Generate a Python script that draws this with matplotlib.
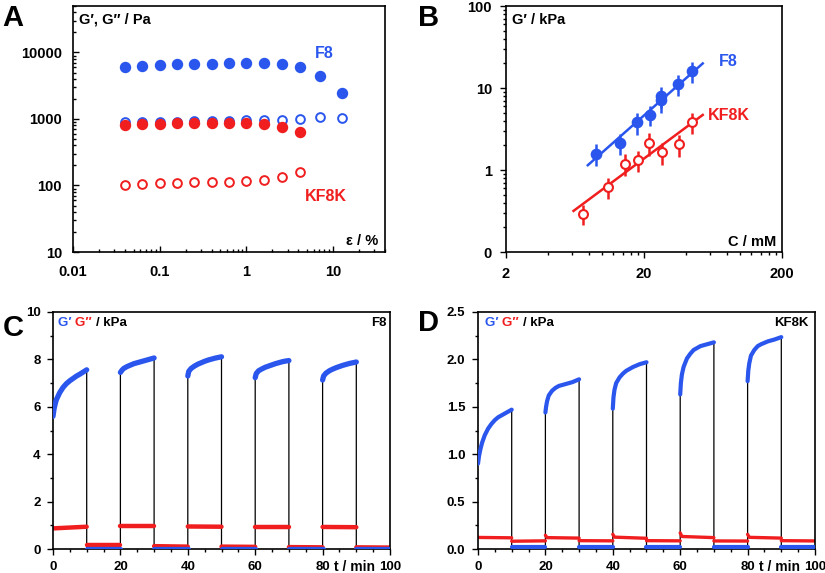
import numpy as np
import matplotlib
matplotlib.use("Agg")
import matplotlib.pyplot as plt
from matplotlib.ticker import FixedLocator, NullFormatter, FixedFormatter

plt.rcParams['font.family'] = ['Liberation Sans', 'DejaVu Sans']
plt.rcParams['font.weight'] = 'bold'

BLUE = '#2a56ee'
RED = '#f01e1e'

# ---------------- Panel A data ----------------
strain = [0.04, 0.063, 0.1, 0.16, 0.25, 0.4, 0.63, 1.0, 1.6, 2.6, 4.2, 7.1, 12.6]
f8_gp = [6000, 6200, 6400, 6600, 6700, 6800, 6900, 6900, 6850, 6600, 6000, 4500, 2500]
f8_gpp = [890, 890, 900, 910, 920, 930, 940, 950, 960, 980, 1010, 1070, 1050]
kf8k_gp = [800, 830, 850, 860, 870, 880, 880, 870, 850, 770, 640]
kf8k_gpp = [102, 106, 110, 110, 111, 113, 114, 118, 122, 135, 160]

# ---------------- Panel B data ----------------
conc_f8 = [9.0, 13.3, 17.8, 22.2, 26.7, 26.7, 35.3, 44.6]
gmod_f8 = [1.58, 2.14, 3.8, 4.75, 7.1, 7.95, 11.2, 16.2]
err_f8 = [0.47, 0.6, 1.1, 1.3, 2.2, 2.3, 3.2, 4.7]
conc_kf8k = [7.17, 10.9, 14.6, 18.1, 21.6, 27.0, 35.7, 44.6]
gmod_kf8k = [0.294, 0.62, 1.2, 1.32, 2.14, 1.66, 2.05, 3.87]
err_kf8k = [0.08, 0.18, 0.35, 0.38, 0.65, 0.5, 0.6, 1.1]
fit_f8 = (0.0533, 1.49, 7.83, 53.3)      # prefactor, exponent, x range
fit_kf8k = (0.0326, 1.25, 6.17, 53.3)

# ---------------- Panel C data ----------------
c_gp_t = [
    [0, 0.3, 0.7, 1, 1.5, 2, 3, 4, 5, 6, 7, 8, 9, 10],
    [10, 20],
    [20, 20.5, 21, 22, 23, 24, 25, 26, 27, 28, 29, 30],
    [30, 40],
    [40, 40.3, 41, 42, 43, 44, 45, 46, 47, 48, 49, 50],
    [50, 60],
    [60, 60.3, 61, 62, 63, 64, 65, 66, 67, 68, 69, 70],
    [70, 80],
    [80, 80.3, 81, 82, 83, 84, 85, 86, 87, 88, 89, 90],
    [90, 100],
]
c_gp_v = [
    [5.6, 5.9, 6.15, 6.3, 6.45, 6.6, 6.82, 6.98, 7.1, 7.2, 7.3, 7.38, 7.47, 7.56],
    [0.02, 0.02],
    [7.45, 7.55, 7.62, 7.7, 7.76, 7.82, 7.86, 7.9, 7.94, 7.98, 8.02, 8.06],
    [0.02, 0.02],
    [7.3, 7.5, 7.62, 7.72, 7.8, 7.86, 7.92, 7.97, 8.01, 8.05, 8.08, 8.11],
    [0.02, 0.02],
    [7.23, 7.4, 7.52, 7.6, 7.67, 7.72, 7.77, 7.82, 7.86, 7.9, 7.93, 7.95],
    [0.02, 0.02],
    [7.13, 7.3, 7.42, 7.52, 7.59, 7.65, 7.7, 7.75, 7.79, 7.83, 7.86, 7.89],
    [0.02, 0.02],
]
c_gpp_t = [[0, 10], [10, 20], [20, 30], [30, 40], [40, 50],
           [50, 60], [60, 70], [70, 80], [80, 90], [90, 100]]
c_gpp_v = [[0.87, 0.94], [0.18, 0.18], [0.99, 0.99], [0.12, 0.1], [0.95, 0.94],
           [0.1, 0.09], [0.92, 0.92], [0.08, 0.07], [0.93, 0.92], [0.07, 0.06]]

# ---------------- Panel D data ----------------
d_gp_t = [
    [0, 0.3, 0.7, 1.2, 2, 3, 4, 5, 6, 7, 8, 9, 10],
    [10, 20],
    [20, 20.2, 20.5, 21, 22, 23, 24, 26, 28, 30],
    [30, 40],
    [40, 40.2, 40.5, 41, 42, 43, 44, 46, 48, 50],
    [50, 60],
    [60, 60.2, 60.5, 61, 62, 63, 64, 66, 68, 70],
    [70, 80],
    [80, 80.2, 80.5, 81, 82, 83, 84, 86, 88, 90],
    [90, 100],
]
d_gp_v = [
    [0.9, 0.98, 1.05, 1.12, 1.2, 1.27, 1.32, 1.36, 1.39, 1.41, 1.43, 1.45, 1.47],
    [0.018, 0.018],
    [1.44, 1.5, 1.56, 1.62, 1.67, 1.7, 1.72, 1.74, 1.76, 1.79],
    [0.02, 0.02],
    [1.48, 1.6, 1.68, 1.75, 1.81, 1.85, 1.88, 1.92, 1.95, 1.97],
    [0.02, 0.02],
    [1.63, 1.75, 1.84, 1.92, 2.01, 2.06, 2.1, 2.14, 2.16, 2.18],
    [0.02, 0.02],
    [1.77, 1.88, 1.96, 2.04, 2.1, 2.14, 2.16, 2.19, 2.21, 2.235],
    [0.02, 0.02],
]
d_gpp_t = [[0, 10], [10, 20], [20, 20.5, 30], [30, 40], [40, 40.5, 50],
           [50, 60], [60, 60.5, 70], [70, 80], [80, 80.5, 90], [90, 100]]
d_gpp_v = [[0.122, 0.118], [0.082, 0.086], [0.145, 0.12, 0.115], [0.088, 0.086],
           [0.155, 0.125, 0.113], [0.088, 0.086], [0.17, 0.132, 0.12],
           [0.085, 0.084], [0.155, 0.123, 0.115], [0.088, 0.085]]

W, H = 825, 573
fig = plt.figure(figsize=(W / 100, H / 100), dpi=100)


def ax_px(l, t, r, b):
    return fig.add_axes([l / W, 1 - b / H, (r - l) / W, (b - t) / H])


def style(ax, direction):
    for s in ax.spines.values():
        s.set_linewidth(1.2)
    ax.tick_params(which='both', direction=direction, width=1.0, labelsize=10.5)
    ax.tick_params(which='major', length=4)
    ax.tick_params(which='minor', length=2.5)


# ---- A ----
axA = ax_px(73, 6, 385, 252)
axA.set_xscale('log'); axA.set_yscale('log')
axA.set_xlim(0.01, 40); axA.set_ylim(10, 50000)
axA.plot(strain, f8_gp, 'o', color=BLUE, ms=7.2, mec=BLUE)
axA.plot(strain, f8_gpp, 'o', mfc='white', mec=BLUE, ms=6.3, mew=1.4)
axA.plot(strain[:len(kf8k_gp)], kf8k_gp, 'o', color=RED, ms=7.2, mec=RED)
axA.plot(strain[:len(kf8k_gpp)], kf8k_gpp, 'o', mfc='white', mec=RED, ms=6.3, mew=1.4)
style(axA, 'in')
axA.tick_params(axis='x', pad=9)
axA.tick_params(axis='y', pad=8)
axA.xaxis.set_major_locator(FixedLocator([0.01, 0.1, 1, 10]))
axA.xaxis.set_major_formatter(FixedFormatter(['0.01', '0.1', '1', '10']))
axA.yaxis.set_major_locator(FixedLocator([10, 100, 1000, 10000]))
axA.yaxis.set_major_formatter(FixedFormatter(['10', '100', '1000', '10000']))
axA.xaxis.set_minor_formatter(NullFormatter()); axA.yaxis.set_minor_formatter(NullFormatter())
axA.text(0.02, 0.945, 'G′, G″ / Pa', transform=axA.transAxes, fontsize=10.5, va='center', fontweight='bold')
axA.text(0.978, 0.045, 'ε / %', transform=axA.transAxes, fontsize=10.5, va='center', ha='right', fontweight='bold')
axA.text(0.805, 0.808, 'F8', transform=axA.transAxes, fontsize=11.5, color=BLUE, ha='center', va='center', fontweight='bold')
axA.text(0.811, 0.224, 'KF8K', transform=axA.transAxes, fontsize=11.5, color=RED, ha='center', va='center', fontweight='bold')

# ---- B ----
axB = ax_px(506, 6, 782, 252)
axB.set_xscale('log'); axB.set_yscale('log')
axB.set_xlim(2, 200); axB.set_ylim(0.1, 100)
for (a, b, x0, x1), col in ((fit_f8, BLUE), (fit_kf8k, RED)):
    xx = np.array([x0, x1])
    axB.plot(xx, a * xx ** b, '-', color=col, lw=1.8, zorder=1)
axB.errorbar(conc_f8, gmod_f8, yerr=err_f8, fmt='o', color=BLUE, ms=7.4, elinewidth=1.8, capsize=0, zorder=3)
axB.errorbar(conc_kf8k, gmod_kf8k, yerr=err_kf8k, fmt='o', color=RED, mfc='white', mec=RED, ms=6.4, mew=1.5,
             elinewidth=1.8, capsize=0, zorder=3)
style(axB, 'out')
axB.tick_params(axis='x', pad=7)
axB.tick_params(axis='y', pad=6)
axB.xaxis.set_major_locator(FixedLocator([2, 20, 200]))
axB.xaxis.set_major_formatter(FixedFormatter(['2', '20', '200']))
axB.xaxis.set_minor_locator(FixedLocator([4, 6, 8, 10, 12, 14, 16, 18, 40, 60, 80, 100, 120, 140, 160, 180]))
axB.yaxis.set_major_locator(FixedLocator([0.1, 1, 10, 100]))
axB.yaxis.set_major_formatter(FixedFormatter(['0', '1', '10', '100']))
axB.xaxis.set_minor_formatter(NullFormatter()); axB.yaxis.set_minor_formatter(NullFormatter())
axB.text(0.022, 0.943, 'G′ / kPa', transform=axB.transAxes, fontsize=10.5, va='center', fontweight='bold')
axB.text(0.98, 0.04, 'C / mM', transform=axB.transAxes, fontsize=10.5, va='center', ha='right', fontweight='bold')
axB.text(0.804, 0.776, 'F8', transform=axB.transAxes, fontsize=11.5, color=BLUE, ha='center', va='center', fontweight='bold')
axB.text(0.808, 0.553, 'KF8K', transform=axB.transAxes, fontsize=11.5, color=RED, ha='center', va='center', fontweight='bold')


def time_panel(ax, gp_t, gp_v, gpp_t, gpp_v, lw_gp, lw_gpp):
    allt = [t for seg in gp_t for t in seg]
    allv = [v for seg in gp_v for v in seg]
    ax.plot(allt, allv, '-', color='black', lw=0.9, zorder=1)
    for t, v in zip(gpp_t, gpp_v):
        ax.plot(t, v, '-', color=RED, lw=lw_gpp, solid_capstyle='round', zorder=2)
    for t, v in zip(gp_t, gp_v):
        ax.plot(t, v, '-', color=BLUE, lw=lw_gp, solid_capstyle='round', zorder=3)
    ax.set_xlim(0, 100)
    style(ax, 'out')
    ax.tick_params(labelsize=9.5)
    ax.tick_params(axis='x', pad=5)
    ax.tick_params(axis='y', pad=5)
    ax.xaxis.set_major_locator(FixedLocator([0, 20, 40, 60, 80, 100]))
    ax.xaxis.set_minor_locator(FixedLocator(np.arange(0, 101, 5)))


def multicolor_label(ax, x, y, parts, fs):
    fig.canvas.draw()
    r = fig.canvas.get_renderer()
    cur = ax.transAxes.transform((x, y))[0]
    ypix = ax.transAxes.transform((x, y))[1]
    for s, c in parts:
        t = fig.text(cur / W, ypix / H, s, color=c, fontsize=fs, va='center', fontweight='bold')
        bb = t.get_window_extent(renderer=r)
        cur = bb.x1


# ---- C ----
axC = ax_px(53, 312, 390, 549)
time_panel(axC, c_gp_t, c_gp_v, c_gpp_t, c_gpp_v, 3.8, 3.2)
axC.set_ylim(0, 10)
axC.yaxis.set_major_locator(FixedLocator([0, 2, 4, 6, 8, 10]))
axC.yaxis.set_minor_locator(FixedLocator(np.arange(0, 10.1, 1)))
axC.text(0.99, 0.954, 'F8', transform=axC.transAxes, fontsize=9.5, ha='right', va='center', fontweight='bold')
axC.text(0.896, -0.078, 't / min', transform=axC.transAxes, fontsize=10, ha='center', va='center', fontweight='bold')

# ---- D ----
axD = ax_px(478, 312, 815, 549)
time_panel(axD, d_gp_t, d_gp_v, d_gpp_t, d_gpp_v, 3.0, 2.4)
axD.set_ylim(0, 2.5)
axD.yaxis.set_major_locator(FixedLocator([0, 0.5, 1.0, 1.5, 2.0, 2.5]))
axD.yaxis.set_major_formatter(FixedFormatter(['0.0', '0.5', '1.0', '1.5', '2.0', '2.5']))
axD.yaxis.set_minor_locator(FixedLocator(np.arange(0, 2.51, 0.25)))
axD.text(0.98, 0.954, 'KF8K', transform=axD.transAxes, fontsize=9.5, ha='right', va='center', fontweight='bold')
axD.text(0.896, -0.078, 't / min', transform=axD.transAxes, fontsize=10, ha='center', va='center', fontweight='bold')

multicolor_label(axC, 0.015, 0.954, [('G′ ', BLUE), ('G″ ', RED), ('/ kPa', 'black')], 9.5)
multicolor_label(axD, 0.021, 0.954, [('G′ ', BLUE), ('G″ ', RED), ('/ kPa', 'black')], 9.5)

# panel letters
for s, x, y in (('A', 2, 18), ('B', 418, 18), ('C', 3, 328), ('D', 418, 323)):
    fig.text(x / W, 1 - y / H, s, fontsize=21, fontweight='bold', va='center', ha='left')

fig.savefig('out.png', dpi=100)
